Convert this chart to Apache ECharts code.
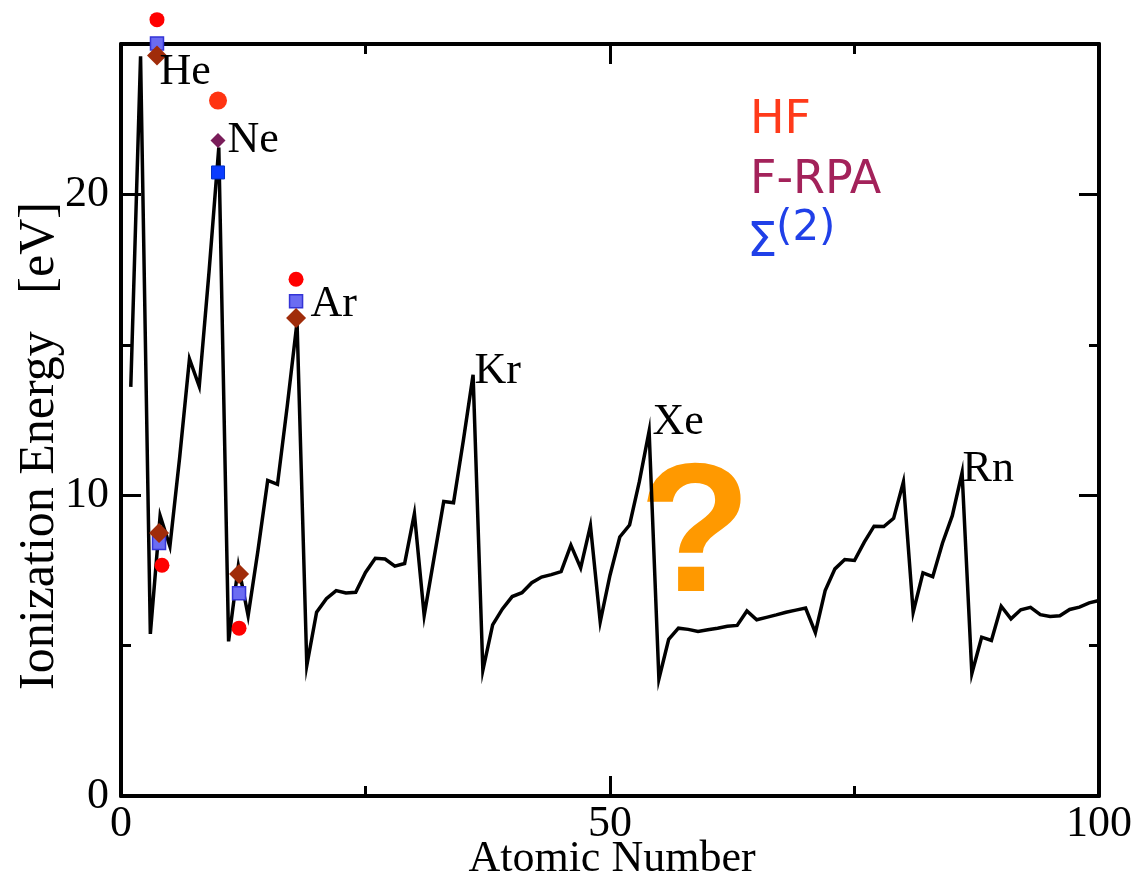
<!DOCTYPE html>
<html>
<head>
<meta charset="utf-8">
<script src="https://cdn.jsdelivr.net/npm/echarts@6/dist/echarts.min.js"></script>
<style>
html,body{margin:0;padding:0;background:#fff;}
#chart{width:1136px;height:884px;}
</style>
</head>
<body>
<div id="chart"></div>
<script>
// Ionization energy (eV) for atomic numbers 1..100
const ionizationEnergy = [
  13.60, 24.59, 5.39, 9.32, 8.30, 11.26, 14.53, 13.62, 17.42, 21.56,
  5.14, 7.65, 5.99, 8.15, 10.49, 10.36, 12.97, 15.76, 4.34, 6.11,
  6.56, 6.83, 6.75, 6.77, 7.43, 7.90, 7.88, 7.64, 7.73, 9.39,
  6.00, 7.90, 9.79, 9.75, 11.81, 14.00, 4.18, 5.69, 6.22, 6.63,
  6.76, 7.09, 7.28, 7.36, 7.46, 8.34, 7.58, 8.99, 5.79, 7.34,
  8.61, 9.01, 10.45, 12.13, 3.89, 5.21, 5.58, 5.54, 5.47, 5.53,
  5.58, 5.64, 5.67, 6.15, 5.86, 5.94, 6.02, 6.11, 6.18, 6.25,
  5.43, 6.83, 7.55, 7.86, 7.83, 8.44, 8.97, 8.96, 9.23, 10.44,
  6.11, 7.42, 7.29, 8.41, 9.32, 10.75, 4.07, 5.28, 5.17, 6.31,
  5.89, 6.19, 6.27, 6.03, 5.97, 5.99, 6.20, 6.28, 6.42, 6.50
];
const atomicNumbers = ionizationEnergy.map((_, i) => i + 1);

// Calculated points (He, Be, Ne, Mg, Ar)
const hfX    = [3.68, 4.19, 9.92, 12.07, 17.90];
const hfY    = [25.81, 7.67, 23.12, 5.58, 17.18];
const sigmaX = [3.68, 3.89, 9.92, 12.07, 17.90];
const sigmaY = [25.02, 8.41, 20.73, 6.74, 16.45];
const frpaX  = [3.68, 3.89, 9.92, 12.07, 17.90];
const frpaY  = [24.62, 8.74, 21.79, 7.38, 15.89];

// Noble gas labels (anchor in data units)
const labelNames = ['He', 'Ne', 'Ar', 'Kr', 'Xe', 'Rn'];
const labelX = [3.99, 10.94, 19.43, 36.2, 54.4, 86.1];
const labelY = [24.05, 21.79, 16.31, 14.09, 12.39, 10.83];

// Axis ticks
const xTicks = [0, 50, 100];
const yTicks = [0, 10, 20];
const yMax = 25;

const legendTexts = ['HF', 'F-RPA', 'Σ', '(2)'];

const serif = '"Liberation Serif", "Times New Roman", serif';
const NE = 2;

const chart = echarts.init(document.getElementById('chart'), null, {renderer: 'canvas'});

function axisCommon() {
  return {
    axisLine: {show: true, onZero: false, lineStyle: {color: '#000', width: 4}},
    axisTick: {show: true, inside: true, length: 20, lineStyle: {color: '#000', width: 3}},
    minorTick: {show: true, splitNumber: 2, length: 10, lineStyle: {color: '#000', width: 3}},
    splitLine: {show: false},
    minorSplitLine: {show: false},
    axisLabel: {show: false}
  };
}

const option = {
  animation: false,
  backgroundColor: '#fff',
  grid: {left: 121, right: 37, top: 44, bottom: 88, containLabel: false},
  xAxis: [
    Object.assign({type: 'value', min: xTicks[0], max: xTicks[2], interval: xTicks[1] - xTicks[0], position: 'bottom'}, axisCommon(),
      {axisLabel: {show: true, color: '#000', fontFamily: serif, fontSize: 44, margin: 6}}),
    Object.assign({type: 'value', min: xTicks[0], max: xTicks[2], interval: xTicks[1] - xTicks[0], position: 'top'}, axisCommon())
  ],
  yAxis: [
    Object.assign({type: 'value', min: yTicks[0], max: yMax, interval: yTicks[1] - yTicks[0], position: 'left'}, axisCommon(),
      {axisLabel: {show: true, showMaxLabel: false, color: '#000', fontFamily: serif, fontSize: 44, margin: 12,
        formatter: v => (yTicks.indexOf(v) >= 0 ? String(v) : '')}}),
    Object.assign({type: 'value', min: yTicks[0], max: yMax, interval: yTicks[1] - yTicks[0], position: 'right'}, axisCommon())
  ],
  series: [
    {
      type: 'line',
      data: atomicNumbers.map((z, i) => [z, ionizationEnergy[i]]),
      showSymbol: false,
      symbol: 'none',
      lineStyle: {color: '#000', width: 3.5, join: 'miter', miterLimit: 10},
      z: 2
    },
    {
      type: 'scatter',
      symbol: 'circle',
      clip: false,
      data: hfX.map((x, i) => ({
        value: [x, hfY[i]],
        symbolSize: i === NE ? 18 : 15,
        itemStyle: {color: i === NE ? '#ff3412' : '#ff0000', opacity: 1}
      })),
      z: 3
    },
    {
      type: 'scatter',
      symbol: 'rect',
      clip: false,
      data: sigmaX.map((x, i) => ({
        value: [x, sigmaY[i]],
        symbolSize: 13,
        itemStyle: i === NE ? {color: '#0a3cff', borderColor: '#0030c8', borderWidth: 1, opacity: 1}
                            : {color: '#6b6cf2', borderColor: '#3434d6', borderWidth: 1.5, opacity: 1}
      })),
      z: 4
    },
    {
      type: 'scatter',
      symbol: 'diamond',
      clip: false,
      data: frpaX.map((x, i) => ({
        value: [x, frpaY[i]],
        symbolSize: i === NE ? [15, 15] : [20, 20],
        itemStyle: {color: i === NE ? '#7a1d5a' : '#a02c0a', opacity: 1}
      })),
      z: 5
    },
    {
      type: 'scatter',
      symbolSize: 1,
      clip: false,
      itemStyle: {color: 'rgba(0,0,0,0)', opacity: 1},
      data: labelNames.map((n, i) => ({name: n, value: [labelX[i], labelY[i]]})),
      label: {
        show: true, formatter: '{b}', position: [0, 0], align: 'left', verticalAlign: 'middle',
        color: '#000', opacity: 1, fontFamily: serif, fontSize: 44
      },
      silent: true,
      z: 6
    }
  ],
  graphic: [
    {type: 'text', x: 750, y: 121, style: {text: legendTexts[0], fill: '#ff3a1a', font: '46px "DejaVu Sans"', align: 'left', verticalAlign: 'middle'}},
    {type: 'text', x: 750, y: 181, style: {text: legendTexts[1], fill: '#a3225a', font: '46px "DejaVu Sans"', align: 'left', verticalAlign: 'middle'}},
    {type: 'text', x: 747, y: 244, style: {text: legendTexts[2], fill: '#2040e8', font: '48px "DejaVu Sans"', align: 'left', verticalAlign: 'middle'}},
    {type: 'text', x: 776, y: 229, style: {text: legendTexts[3], fill: '#2040e8', font: '42px "DejaVu Sans"', align: 'left', verticalAlign: 'middle'}},
    {type: 'text', x: 695, y: 540, style: {text: '?', fill: '#ff9900', font: 'bold 184px "Liberation Sans"', align: 'center', verticalAlign: 'middle'}},
    {type: 'text', x: 612, y: 859, style: {text: 'Atomic Number', fill: '#000', font: '44px ' + serif, align: 'center', verticalAlign: 'middle'}},
    {type: 'text', x: 40, y: 446, rotation: Math.PI / 2, style: {text: 'Ionization Energy   [eV]', fill: '#000', font: '50px ' + serif, align: 'center', verticalAlign: 'middle'}}
  ]
};
chart.setOption(option);
</script>
</body>
</html>
